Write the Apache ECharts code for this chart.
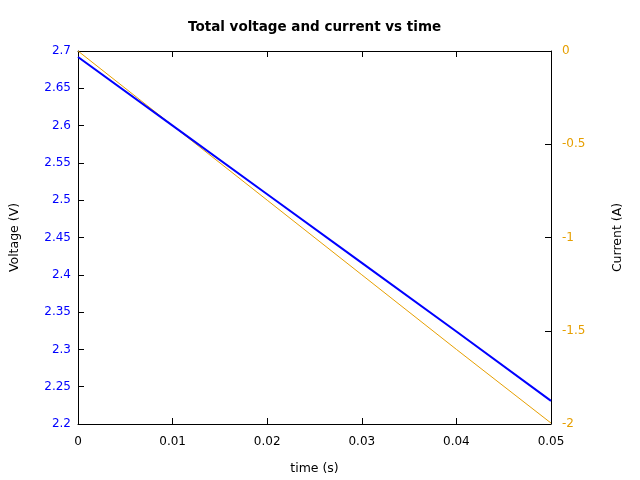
<!DOCTYPE html>
<html><head><meta charset="utf-8">
<script src="https://cdn.jsdelivr.net/npm/echarts@6/dist/echarts.min.js"></script>
<style>html,body{margin:0;padding:0;background:#fff}#c{width:640px;height:480px}</style>
</head><body><div id="c"></div>
<script>
const time = [0, 0.01, 0.02, 0.03, 0.04, 0.05];
const voltage = [2.692, 2.600, 2.508, 2.416, 2.324, 2.231];
const current = [0, -0.4, -0.8, -1.2, -1.6, -1.995];
const FONT = 'DejaVu Sans';
const chart = echarts.init(document.getElementById('c'), null, {renderer:'canvas'});
const lineBlack = {show:true, onZero:false, lineStyle:{color:'#000', width:1}};
const tickIn = {show:true, inside:true, length:6, lineStyle:{color:'#000', width:1}};
chart.setOption({
  animation:false,
  backgroundColor:'#fff',
  title:{text:'Total voltage and current vs time', left:188, top:20, padding:0,
    textStyle:{fontFamily:FONT, fontSize:13.5, fontWeight:'bold', color:'#000'}},
  grid:{left:77, right:89, top:51, bottom:54, containLabel:false},
  xAxis:[{
    type:'value', min:0, max:0.05, interval:0.01, position:'bottom',
    name:'time (s)', nameLocation:'middle', nameGap:38,
    nameTextStyle:{fontFamily:FONT, fontSize:12.5, color:'#000'},
    axisLine:lineBlack, axisTick:tickIn,
    axisLabel:{fontFamily:FONT, fontSize:12, color:'#000', margin:12},
    splitLine:{show:false}
  },{
    type:'value', min:0, max:0.05, interval:0.01, position:'top',
    axisLine:lineBlack, axisTick:tickIn,
    axisLabel:{show:false}, splitLine:{show:false}
  }],
  yAxis:[{
    type:'value', min:2.2, max:2.7, interval:0.05, position:'left',
    name:'Voltage (V)', nameLocation:'middle', nameGap:57, nameRotate:90,
    nameTextStyle:{fontFamily:FONT, fontSize:12.5, color:'#000'},
    axisLine:lineBlack, axisTick:tickIn,
    axisLabel:{fontFamily:FONT, fontSize:12, color:'#0000ff', margin:7},
    splitLine:{show:false}
  },{
    type:'value', min:-2, max:0, interval:0.5, position:'right',
    name:'Current (A)', nameLocation:'middle', nameGap:60, nameRotate:90,
    nameTextStyle:{fontFamily:FONT, fontSize:12.5, color:'#000'},
    axisLine:lineBlack, axisTick:tickIn,
    axisLabel:{fontFamily:FONT, fontSize:12, color:'#e69f00', margin:11},
    splitLine:{show:false}
  }],
  series:[{
    type:'line', xAxisIndex:0, yAxisIndex:0,
    data: time.map((t,i)=>[t, voltage[i]]),
    showSymbol:false, lineStyle:{color:'#0000ff', width:2}, z:3
  },{
    type:'line', xAxisIndex:0, yAxisIndex:1,
    data: time.map((t,i)=>[t, current[i]]),
    showSymbol:false, lineStyle:{color:'#e69f00', width:1}, z:2
  }]
});
</script></body></html>
